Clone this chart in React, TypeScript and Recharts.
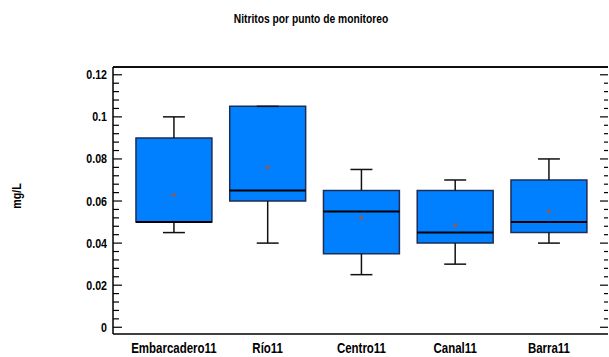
import React from "react";
import {
  ComposedChart, Scatter, XAxis, YAxis, ReferenceArea, ReferenceLine,
} from "recharts";

// Arial-metric sans squeezed horizontally to get a narrow bold face
const FONT = "'Liberation Sans', Arial, sans-serif";
const SQUEEZE = 0.82;

// monitoring points and their box statistics (mg/L)
const categories = ["Embarcadero11", "Río11", "Centro11", "Canal11", "Barra11"];
const whiskerLow = [0.045, 0.04, 0.025, 0.03, 0.04];
const q1 = [0.05, 0.06, 0.035, 0.04, 0.045];
const medians = [0.05, 0.065, 0.055, 0.045, 0.05];
const q3 = [0.09, 0.105, 0.065, 0.065, 0.07];
const whiskerHigh = [0.1, 0.105, 0.075, 0.07, 0.08];
const means = [0.063, 0.076, 0.052, 0.0485, 0.055];

const yMajorTicks = [0, 0.02, 0.04, 0.06, 0.08, 0.1, 0.12];
const yMinorStep = 0.004;

const X_DOMAIN: [number, number] = [0.35, 5.63];
const Y_DOMAIN: [number, number] = [-0.0032, 0.1237];
const BOX_HALF = 0.405;
const CAP_HALF = 0.117;

const positions = categories.map((_, i) => i + 1);
const meanPoints = positions.map((x, i) => ({ x, y: means[i] }));

// major ticks plus the minor ones between them
const yAllTicks: number[] = [];
for (let i = 0; i < yMajorTicks.length - 1; i++) {
  for (let k = 0; k < 5; k++) {
    yAllTicks.push(+(yMajorTicks[i] + k * yMinorStep).toFixed(4));
  }
}
yAllTicks.push(yMajorTicks[yMajorTicks.length - 1]);

const isMajor = (v: number) => yMajorTicks.some((m) => Math.abs(m - v) < 1e-6);

function NarrowText({ x, y, anchor, size, children }: any) {
  return (
    <text transform={`translate(${x},${y}) scale(${SQUEEZE},1)`} textAnchor={anchor}
      fontFamily={FONT} fontSize={size} fontWeight="bold" fill="#000">
      {children}
    </text>
  );
}

function LeftTick({ x, y, payload }: any) {
  const major = isMajor(payload.value);
  return (
    <g>
      <line x1={x} x2={x + (major ? 9 : 6)} y1={y} y2={y} stroke="#000" strokeWidth={1.2} />
      {major && (
        <NarrowText x={x - 6} y={y + 4.5} anchor="end" size={13}>
          {String(payload.value)}
        </NarrowText>
      )}
    </g>
  );
}

function RightTick({ x, y, payload }: any) {
  const major = isMajor(payload.value);
  return <line x1={x - (major ? 8 : 4)} x2={x} y1={y} y2={y} stroke="#000" strokeWidth={1.2} />;
}

function BottomTick({ x, y, payload }: any) {
  return (
    <NarrowText x={x} y={y + 19} anchor="middle" size={14}>
      {categories[payload.value - 1] ?? ""}
    </NarrowText>
  );
}

function MeanMark({ cx, cy }: any) {
  return (
    <g stroke="#c0501a" strokeWidth={1}>
      <line x1={cx - 2.5} x2={cx + 2.5} y1={cy} y2={cy} />
      <line x1={cx} x2={cx} y1={cy - 2.5} y2={cy + 2.5} />
    </g>
  );
}

const htmlText: React.CSSProperties = {
  fontFamily: FONT, fontWeight: "bold", color: "#000", whiteSpace: "nowrap",
};

export default function App() {
  return (
    <div style={{ position: "absolute", left: 0, top: 0, width: 609, height: 357, background: "#fff" }}>
      <div style={{
        ...htmlText, position: "absolute", left: 311, top: 12, fontSize: 12.5,
        transform: `translate(-50%, 0) scale(${SQUEEZE}, 1)`,
      }}>
        Nitritos por punto de monitoreo
      </div>
      <div style={{
        ...htmlText, position: "absolute", left: 16, top: 196, fontSize: 13,
        transform: `translate(-50%, -50%) rotate(-90deg) scale(${SQUEEZE}, 1)`,
      }}>
        mg/L
      </div>
      <ComposedChart width={609} height={357} margin={{ top: 66, right: 0, bottom: 0, left: 0 }}
        style={{ position: "absolute", left: 0, top: 0 }}>
        <XAxis dataKey="x" type="number" domain={X_DOMAIN} allowDataOverflow
          ticks={positions} interval={0}
          height={23} tickLine={false} tickSize={0} tickMargin={0}
          axisLine={{ stroke: "#000", strokeWidth: 1.5 }} tick={<BottomTick />} />
        <XAxis xAxisId="top" orientation="top" type="number" domain={X_DOMAIN} allowDataOverflow
          height={1} tick={false} tickLine={false}
          axisLine={{ stroke: "#000", strokeWidth: 1.5 }} />
        <YAxis dataKey="y" type="number" domain={Y_DOMAIN} allowDataOverflow
          ticks={yAllTicks} interval={0} width={113} tickSize={0} tickMargin={0} tickLine={false}
          axisLine={{ stroke: "#000", strokeWidth: 1.5 }} tick={<LeftTick />} />
        <YAxis yAxisId="right" orientation="right" type="number" domain={Y_DOMAIN} allowDataOverflow
          ticks={yAllTicks} interval={0} width={1} tickSize={0} tickMargin={0} tickLine={false}
          axisLine={false} tick={<RightTick />} />

        <ReferenceLine y={Y_DOMAIN[1]} stroke="#000" strokeWidth={1.5} ifOverflow="visible" />

        {positions.map((x, i) => (
          <ReferenceArea key={`box-${i}`} x1={x - BOX_HALF} x2={x + BOX_HALF} y1={q1[i]} y2={q3[i]}
            fill="#0080ff" fillOpacity={1} stroke="#1d2d55" strokeWidth={1.5} ifOverflow="visible" />
        ))}
        {positions.map((x, i) => (
          <ReferenceLine key={`up-${i}`} segment={[{ x, y: q3[i] }, { x, y: whiskerHigh[i] }]}
            stroke="#111" strokeWidth={1.5} ifOverflow="visible" />
        ))}
        {positions.map((x, i) => (
          <ReferenceLine key={`lo-${i}`} segment={[{ x, y: whiskerLow[i] }, { x, y: q1[i] }]}
            stroke="#111" strokeWidth={1.5} ifOverflow="visible" />
        ))}
        {positions.map((x, i) => (
          <ReferenceLine key={`capH-${i}`}
            segment={[{ x: x - CAP_HALF, y: whiskerHigh[i] }, { x: x + CAP_HALF, y: whiskerHigh[i] }]}
            stroke="#111" strokeWidth={1.5} ifOverflow="visible" />
        ))}
        {positions.map((x, i) => (
          <ReferenceLine key={`capL-${i}`}
            segment={[{ x: x - CAP_HALF, y: whiskerLow[i] }, { x: x + CAP_HALF, y: whiskerLow[i] }]}
            stroke="#111" strokeWidth={1.5} ifOverflow="visible" />
        ))}
        {positions.map((x, i) => (
          <ReferenceLine key={`med-${i}`}
            segment={[{ x: x - BOX_HALF, y: medians[i] }, { x: x + BOX_HALF, y: medians[i] }]}
            stroke="#000" strokeWidth={2} ifOverflow="visible" />
        ))}

        <Scatter data={meanPoints} dataKey="y" shape={<MeanMark />} isAnimationActive={false} />
      </ComposedChart>
    </div>
  );
}
